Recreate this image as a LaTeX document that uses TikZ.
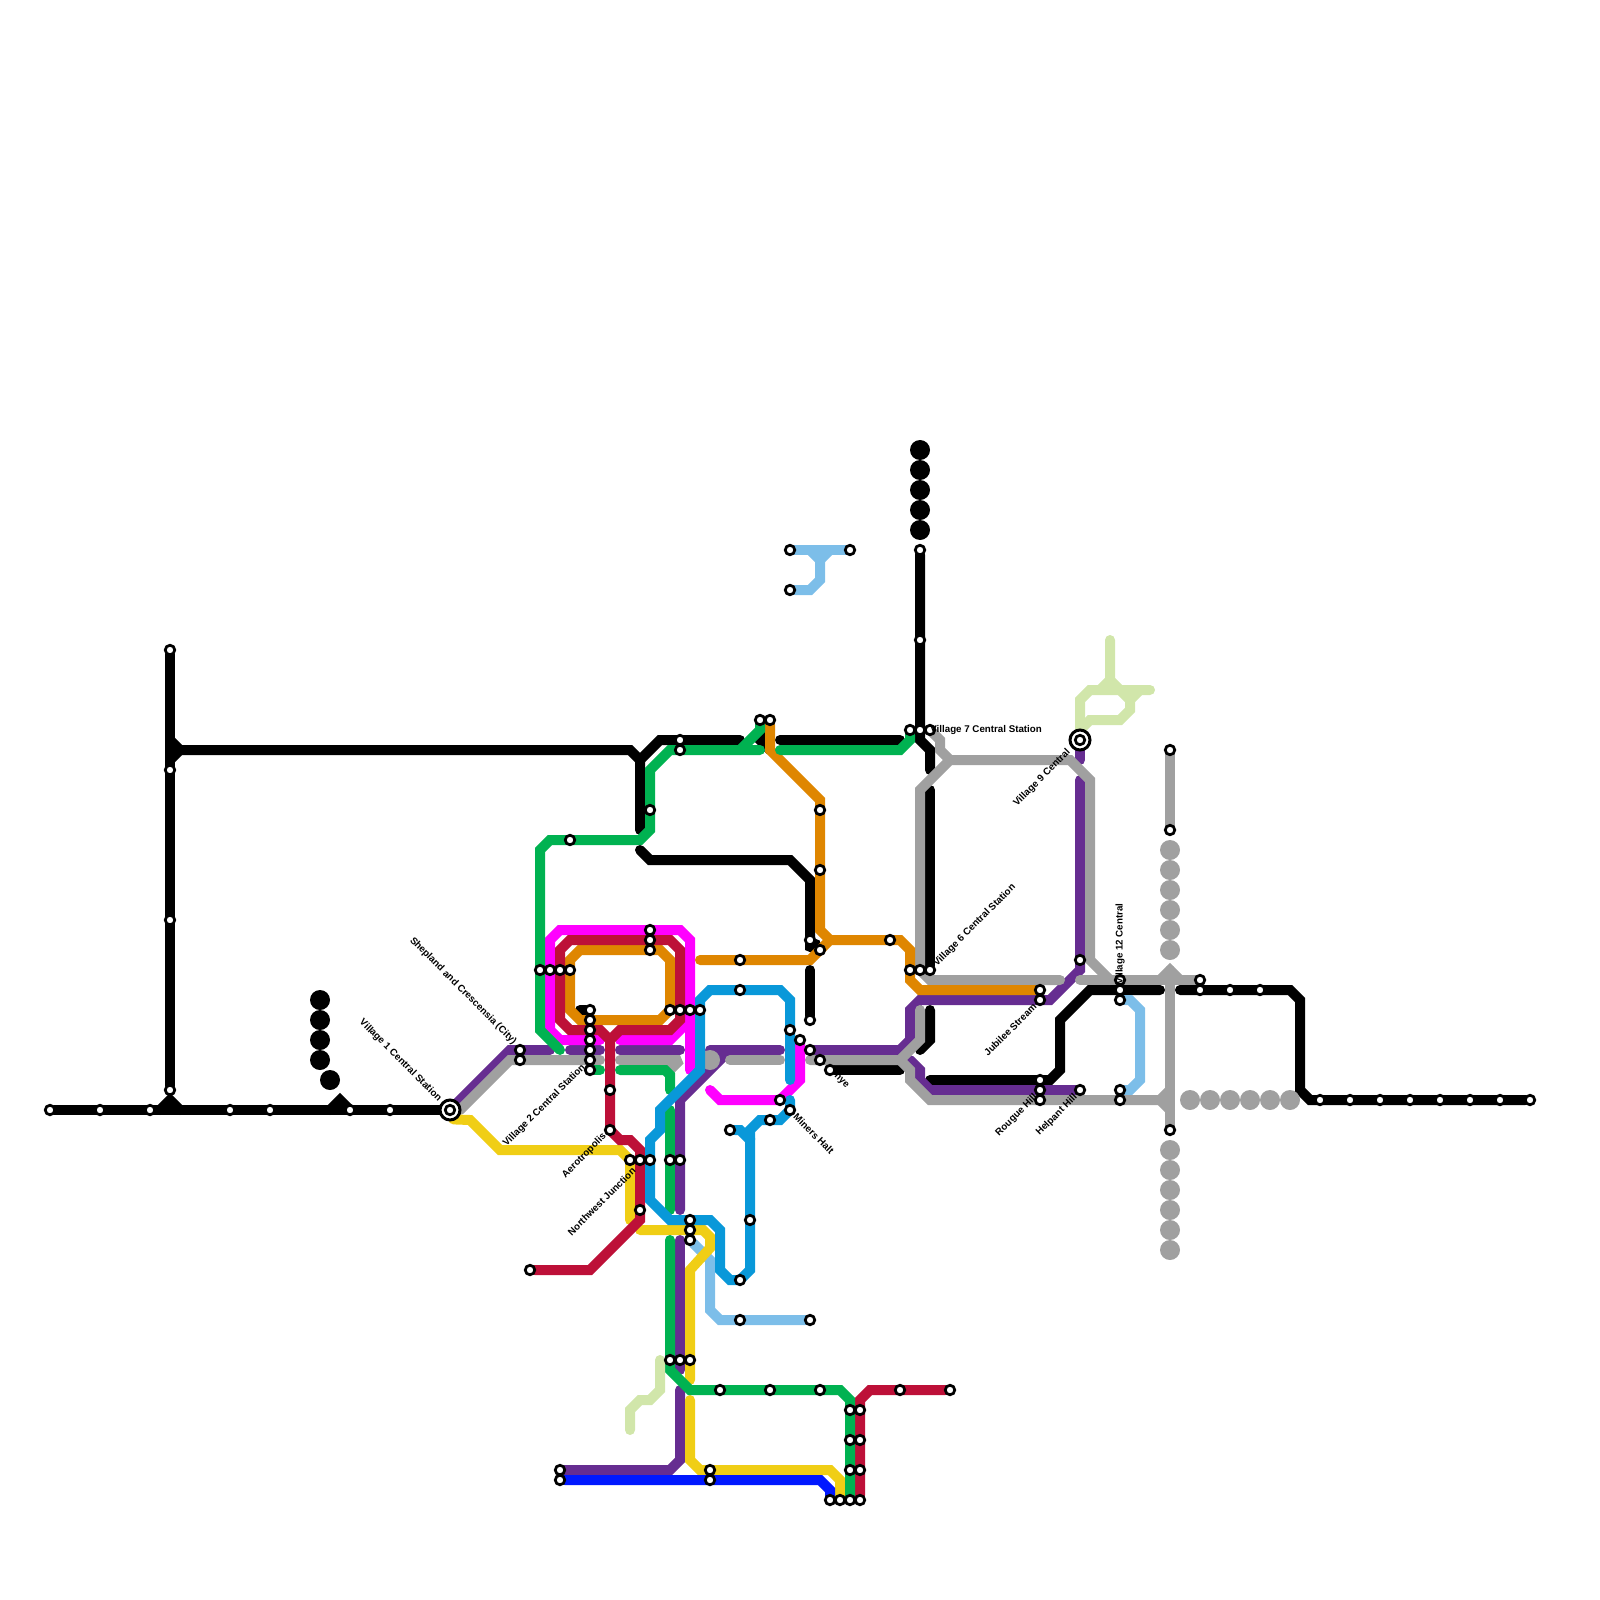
\documentclass[tikz,border=0pt]{standalone}
\usepackage{fontspec}
\setmainfont{Liberation Sans}
\usepackage{tikz}
\definecolor{lineGrey}{RGB}{160,160,160}
\definecolor{linePurple}{RGB}{102,45,145}
\definecolor{lineCrimson}{RGB}{189,16,56}
\definecolor{lineMagenta}{RGB}{255,0,255}
\definecolor{lineOrange}{RGB}{223,134,0}
\definecolor{lineGreen}{RGB}{0,178,81}
\definecolor{lineBlue}{RGB}{9,152,217}
\definecolor{lineSky}{RGB}{124,190,233}
\definecolor{lineYellow}{RGB}{240,206,21}
\definecolor{lineNavy}{RGB}{0,24,255}
\definecolor{linePale}{RGB}{209,230,170}
\pgfdeclarelayer{lines}
\pgfsetlayers{lines,main}
\tikzset{
  route/.style={line width=2mm, line cap=round, line join=miter, miter limit=2},
  stop/.style={circle, draw=black, fill=white, line width=0.55mm, minimum size=1.9mm, inner sep=0pt, outer sep=0pt},
  hub/.style={circle, draw=black, fill=white, line width=0.6mm, minimum size=4mm, inner sep=0pt, outer sep=0pt},
  blackdot/.style={circle, fill=black, minimum size=4mm, inner sep=0pt, outer sep=0pt},
  greydot/.style={circle, fill=lineGrey, minimum size=4mm, inner sep=0pt, outer sep=0pt},
  place/.style={font=\bfseries\fontsize{5.55}{6.5}\selectfont, text=black, inner sep=0pt}
}

\begin{document}
\begin{tikzpicture}[x=2mm,y=-2mm]
  \useasboundingbox (0,0) rectangle (160,160);

  \node[stop] (wa) at (5,111) {};
  \node[stop] (wb) at (10,111) {};
  \node[stop] (wc) at (15,111) {};
  \node[stop] (wd) at (23,111) {};
  \node[stop] (we) at (27,111) {};
  \node[stop] (wf) at (35,111) {};
  \node[stop] (wg) at (39,111) {};
  \node[stop] (na) at (17,65) {};
  \node[stop] (nb) at (17,77) {};
  \node[stop] (nc) at (17,92) {};
  \node[stop] (nd) at (17,109) {};
  \node[hub] (villageOne) at (45,111) {};
  \node[stop] (villageOneIn) at (45,111) {};
  \node[stop] (shepA) at (52,105) {};
  \node[stop] (shepB) at (52,106) {};
  \node[stop] (la) at (54,97) {};
  \node[stop] (lb) at (55,97) {};
  \node[stop] (lc) at (56,97) {};
  \node[stop] (ld) at (57,97) {};
  \node[stop] (ta) at (65,93) {};
  \node[stop] (tb) at (65,94) {};
  \node[stop] (tc) at (65,95) {};
  \node[stop] (ra) at (67,101) {};
  \node[stop] (rb) at (68,101) {};
  \node[stop] (rc) at (69,101) {};
  \node[stop] (rd) at (70,101) {};
  \node[stop] (sa) at (59,101) {};
  \node[stop] (sb) at (59,102) {};
  \node[stop] (sc) at (59,103) {};
  \node[stop] (sd) at (59,104) {};
  \node[stop] (se) at (59,105) {};
  \node[stop] (sf) at (59,106) {};
  \node[stop] (villageTwo) at (59,107) {};
  \node[stop] (aa) at (61,109) {};
  \node[stop] (aerotropolis) at (61,113) {};
  \node[stop] (nwa) at (63,116) {};
  \node[stop] (northwest) at (64,116) {};
  \node[stop] (nwc) at (65,116) {};
  \node[stop] (ca) at (67,116) {};
  \node[stop] (cb) at (68,116) {};
  \node[stop] (cc) at (64,121) {};
  \node[stop] (cd) at (53,127) {};
  \node[stop] (ga) at (57,84) {};
  \node[stop] (gb) at (65,81) {};
  \node[stop] (gc) at (68,74) {};
  \node[stop] (gd) at (68,75) {};
  \node[stop] (ge) at (76,72) {};
  \node[stop] (gf) at (77,72) {};
  \node[stop] (oa) at (74,96) {};
  \node[stop] (ob) at (74,99) {};
  \node[stop] (ba) at (79,103) {};
  \node[stop] (bb) at (80,104) {};
  \node[stop] (bc) at (81,105) {};
  \node[stop] (bd) at (82,106) {};
  \node[stop] (onye) at (83,107) {};
  \node[stop] (da) at (82,81) {};
  \node[stop] (db) at (82,87) {};
  \node[stop] (dc) at (81,94) {};
  \node[stop] (dd) at (82,95) {};
  \node[stop] (de) at (89,94) {};
  \node[stop] (ea) at (91,97) {};
  \node[stop] (eb) at (92,97) {};
  \node[stop] (villageSix) at (93,97) {};
  \node[stop] (fa) at (91,73) {};
  \node[stop] (fb) at (92,73) {};
  \node[stop] (villageSeven) at (93,73) {};
  \node[stop] (ha) at (92,55) {};
  \node[stop] (hb) at (92,64) {};
  \node[stop] (hc) at (81,102) {};
  \node[stop] (ma) at (78,110) {};
  \node[stop] (miners) at (79,111) {};
  \node[stop] (mb) at (77,112) {};
  \node[stop] (mc) at (73,113) {};
  \node[stop] (pa) at (69,122) {};
  \node[stop] (pb) at (69,123) {};
  \node[stop] (pc) at (69,124) {};
  \node[stop] (pd) at (75,122) {};
  \node[stop] (pe) at (74,128) {};
  \node[stop] (pf) at (74,132) {};
  \node[stop] (pg) at (81,132) {};
  \node[stop] (qa) at (67,136) {};
  \node[stop] (qb) at (68,136) {};
  \node[stop] (qc) at (69,136) {};
  \node[stop] (qd) at (72,139) {};
  \node[stop] (qe) at (77,139) {};
  \node[stop] (qf) at (82,139) {};
  \node[stop] (qg) at (90,139) {};
  \node[stop] (qh) at (95,139) {};
  \node[stop] (ua) at (85,141) {};
  \node[stop] (ub) at (86,141) {};
  \node[stop] (uc) at (85,144) {};
  \node[stop] (ud) at (86,144) {};
  \node[stop] (ue) at (85,147) {};
  \node[stop] (uf) at (86,147) {};
  \node[stop] (ug) at (83,150) {};
  \node[stop] (uh) at (84,150) {};
  \node[stop] (ui) at (85,150) {};
  \node[stop] (uj) at (86,150) {};
  \node[stop] (va) at (56,147) {};
  \node[stop] (vb) at (56,148) {};
  \node[stop] (vc) at (71,147) {};
  \node[stop] (vd) at (71,148) {};
  \node[stop] (ka) at (79,55) {};
  \node[stop] (kb) at (85,55) {};
  \node[stop] (kc) at (79,59) {};
  \node[stop] (xa) at (104,99) {};
  \node[stop] (jubilee) at (104,100) {};
  \node[stop] (xb) at (108,96) {};
  \node[stop] (xc) at (104,108) {};
  \node[stop] (rougue) at (104,109) {};
  \node[stop] (xd) at (104,110) {};
  \node[stop] (helpant) at (108,109) {};
  \node[hub] (villageNine) at (108,74) {};
  \node[stop] (villageNineIn) at (108,74) {};
  \node[stop] (villageTwelve) at (112,98) {};
  \node[stop] (ya) at (112,99) {};
  \node[stop] (yb) at (112,100) {};
  \node[stop] (yc) at (112,109) {};
  \node[stop] (yd) at (112,110) {};
  \node[stop] (za) at (120,98) {};
  \node[stop] (zb) at (120,99) {};
  \node[stop] (zc) at (123,99) {};
  \node[stop] (zd) at (126,99) {};
  \node[stop] (zf) at (117,75) {};
  \node[stop] (zg) at (117,83) {};
  \node[stop] (zh) at (117,113) {};
  \node[stop] (ea1) at (132,110) {};
  \node[stop] (ea2) at (135,110) {};
  \node[stop] (ea3) at (138,110) {};
  \node[stop] (ea4) at (141,110) {};
  \node[stop] (ea5) at (144,110) {};
  \node[stop] (ea6) at (147,110) {};
  \node[stop] (ea7) at (150,110) {};
  \node[stop] (ea8) at (153,110) {};

  \node[blackdot] (topa) at (92,45) {};
  \node[blackdot] (topb) at (92,47) {};
  \node[blackdot] (topc) at (92,49) {};
  \node[blackdot] (topd) at (92,51) {};
  \node[blackdot] (tope) at (92,53) {};
  \node[blackdot] (lefta) at (32,100) {};
  \node[blackdot] (leftb) at (32,102) {};
  \node[blackdot] (leftc) at (32,104) {};
  \node[blackdot] (leftd) at (32,106) {};
  \node[blackdot] (lefte) at (33,108) {};
  \node[greydot] (upa) at (117,85) {};
  \node[greydot] (upb) at (117,87) {};
  \node[greydot] (upc) at (117,89) {};
  \node[greydot] (upd) at (117,91) {};
  \node[greydot] (upe) at (117,93) {};
  \node[greydot] (upf) at (117,95) {};
  \node[greydot] (dna) at (117,115) {};
  \node[greydot] (dnb) at (117,117) {};
  \node[greydot] (dnc) at (117,119) {};
  \node[greydot] (dnd) at (117,121) {};
  \node[greydot] (dne) at (117,123) {};
  \node[greydot] (dnf) at (117,125) {};
  \node[greydot] (ria) at (119,110) {};
  \node[greydot] (rib) at (121,110) {};
  \node[greydot] (ric) at (123,110) {};
  \node[greydot] (rid) at (125,110) {};
  \node[greydot] (rie) at (127,110) {};
  \node[greydot] (rif) at (129,110) {};

  \begin{pgfonlayer}{lines}
    \draw[route, black] (wa) -- (villageOne);
    \draw[route, black] (na) -- (nd);
    \draw[route, black] (16,111) -- (17,110) -- (18,111);
    \draw[route, black] (33,111) -- (34,110) -- (35,111);
    \draw[route, black] (17,74) -- (18,75) -- (17,76);
    \draw[route, black] (18,75) -- (63,75) -- (64,76) -- (64,83);
    \draw[route, black] (64,76) -- (66,74) -- (74,74);
    \draw[route, black] (77,73) -- (76,74) -- (77,75);
    \draw[route, black] (78,74) -- (90,74);
    \draw[route, black] (64,85) -- (65,86) -- (79,86) -- (81,88) -- (81,95) -- (81.6,94.4);
    \draw[route, black] (ha) -- (92,74) -- (93,75) -- (93,77);
    \draw[route, black] (93,79) -- (villageSix);
    \draw[route, black] (93,101) -- (93,104) -- (92,105);
    \draw[route, black] (81,97) -- (hc);
    \draw[route, black] (onye) -- (90,107);
    \draw[route, black] (93,108) -- (105,108) -- (106,107) -- (106,102) -- (109,99) -- (116,99);
    \draw[route, black] (118,99) -- (129,99) -- (130,100) -- (130,109) -- (131,110) -- (ea8);
    \draw[route, black] (58,101) -- (sa);

    \draw[route, lineSky] (ka) -- (kb);
    \draw[route, lineSky] (81,55) -- (82,56) -- (83,55);
    \draw[route, lineSky] (82,56) -- (82,58) -- (81,59) -- (kc);
    \draw[route, lineSky] (pc) -- (71,126) -- (71,131) -- (72,132) -- (pg);
    \draw[route, lineSky] (yb) -- (113,100) -- (114,101) -- (114,108) -- (113,109) -- (yc);

    \draw[route, linePurple] (villageOne) -- (51,105) -- (55,105);
    \draw[route, linePurple] (57,105) -- (60,105);
    \draw[route, linePurple] (62,105) -- (68,105);
    \draw[route, linePurple] (71,105) -- (78,105);
    \draw[route, linePurple] (73,105) -- (68,110) -- (68,121);
    \draw[route, linePurple] (68,124) -- (68,137);
    \draw[route, linePurple] (68,139) -- (68,146) -- (67,147) -- (va);
    \draw[route, linePurple] (bc) -- (90,105) -- (91,104) -- (91,101) -- (92,100) -- (105,100) -- (108,97) -- (108,78);
    \draw[route, linePurple] (villageNine) -- (108,76);
    \draw[route, linePurple] (91,106) -- (92,107) -- (92,108) -- (93,109) -- (helpant);

    \node[greydot] (midgrey) at (71,106) {};
    \draw[route, lineGrey] (46,111) -- (51,106) -- (60,106);
    \draw[route, lineGrey] (62,106) -- (68,106) -- (67,107);
    \draw[route, lineGrey] (73,106) -- (78,106);
    \draw[route, lineGrey] (81,106) -- (90,106) -- (92,104) -- (92,101);
    \draw[route, lineGrey] (90,106) -- (91,107) -- (91,108) -- (93,110) -- (116,110);
    \draw[route, lineGrey] (117,109) -- (116,110) -- (117,111);
    \draw[route, lineGrey] (116,98) -- (117,97) -- (118,98);
    \draw[route, lineGrey] (117,97) -- (zh);
    \draw[route, lineGrey] (108,98) -- (za);
    \draw[route, lineGrey] (zf) -- (zg);
    \draw[route, lineGrey] (93,73) -- (94,74) -- (94,75) -- (95,76);
    \draw[route, lineGrey] (106,98) -- (93,98) -- (92,97) -- (92,79) -- (95,76) -- (107,76) -- (109,78) -- (109,96) -- (111,98);

    \draw[route, lineMagenta] (60,104) -- (56,104) -- (55,103) -- (55,94) -- (56,93) -- (68,93) -- (69,94) -- (69,107);
    \draw[route, lineMagenta] (62,104) -- (67,104) -- (69,102);
    \draw[route, lineMagenta] (71,109) -- (72,110) -- (78,110) -- (80,108) -- (80,104);

    \draw[route, lineOrange] (58,95) -- (66,95) -- (67,96) -- (67,101) -- (66,102) -- (58,102) -- (57,101) -- (57,96) -- cycle;
    \draw[route, lineOrange] (70,96) -- (81,96) -- (83,94) -- (90,94) -- (91,95) -- (91,98) -- (92,99) -- (xa);
    \draw[route, lineOrange] (gf) -- (77,75) -- (82,80) -- (82,93) -- (83,94);

    \draw[route, lineYellow] (villageOne.-70) -- (47,112) -- (50,115) -- (62,115) -- (63,116) -- (63,122);
    \draw[route, lineYellow] (64,123) -- (70.3,123) -- (71,123.7) -- (71,124.8) -- (69,127) -- (69,138);
    \draw[route, lineYellow] (69,140) -- (69,146) -- (70,147) -- (83,147) -- (84,148) -- (uh);

    \draw[route, lineCrimson] (61,104) -- (60,103) -- (57,103) -- (56,102) -- (56,95) -- (57,94) -- (67,94) -- (68,95) -- (68,102) -- (67,103) -- (62,103) -- (61,104) -- (aerotropolis.center) -- (62,114) -- (63,114) -- (64,115) -- (64,122) -- (59,127) -- (cd);
    \draw[route, lineCrimson] (uj) -- (86,140) -- (87,139) -- (qh);

    \draw[route, lineNavy] (vb) -- (82,148) -- (83,149) -- (ug);

    \draw[route, lineGreen] (56,105) -- (54,103) -- (54,85) -- (55,84) -- (64,84) -- (65,83) -- (65,77) -- (67,75) -- (76,75);
    \draw[route, lineGreen] (74,75) -- (76,73) -- (ge);
    \draw[route, lineGreen] (78,75) -- (90,75) -- (91,74) -- (fa);
    \draw[route, lineGreen] (villageTwo) -- (60,107);
    \draw[route, lineGreen] (62,107) -- (66.5,107) -- (67,107.5) -- (67,109);
    \draw[route, lineGreen] (67,111) -- (67,121);
    \draw[route, lineGreen] (67,124) -- (67,137) -- (69,139) -- (84,139) -- (85,140) -- (ui);

    \draw[route, lineBlue] (mc) -- (74,113) -- (75,114) -- (75,127) -- (74,128) -- (73,128) -- (72,127) -- (72,123) -- (71,122) -- (67,122) -- (65,120) -- (65,114) -- (66,113) -- (66,111) -- (70,107) -- (70,100) -- (71,99) -- (78,99) -- (79,100) -- (79,108);
    \draw[route, lineBlue] (75,114) -- (75,113) -- (76,112) -- (78,112) -- (79,111) -- (79,110);

    \draw[route, linePale] (villageNine) -- (108,70) -- (109,69) -- (115,69);
    \draw[route, linePale] (112,69) -- (113,70) -- (113,71) -- (112,72) -- (109,72) -- (108,73);
    \draw[route, linePale] (111,64) -- (111,68) -- (110,69);
    \draw[route, linePale] (111,68) -- (112,69);
    \draw[route, linePale] (113,70) -- (114,69);
    \draw[route, linePale] (66,136) -- (66,139) -- (65,140) -- (64,140) -- (63,141) -- (63,143);
  \end{pgfonlayer}

  \node[place, rotate=-45, anchor=east] (lblVillageOne) at (44,110) {Village 1 Central Station};
  \node[place, rotate=-45, anchor=east] (lblShepland) at (51.5,104.3) {Shepland and Crescensia (City)};
  \node[place, rotate=45, anchor=east] (lblVillageTwo) at (58.4,106.6) {Village 2 Central Station};
  \node[place, rotate=45, anchor=east] (lblAerotropolis) at (60.5,113.5) {Aerotropolis};
  \node[place, rotate=45, anchor=east] (lblNorthwest) at (63.4,116.9) {Northwest Junction};
  \node[place, rotate=-45, anchor=west] (lblMiners) at (79.5,111.5) {Miners Halt};
  \node[place, rotate=-45, anchor=west] (lblOnye) at (83.5,107.5) {nye};
  \node[place, anchor=west] (lblVillageSeven) at (93,73) {Village 7 Central Station};
  \node[place, rotate=45, anchor=west] (lblVillageSix) at (93.5,96.5) {Village 6 Central Station};
  \node[place, rotate=45, anchor=east] (lblJubilee) at (103.5,100.5) {Jubilee Stream};
  \node[place, rotate=45, anchor=east] (lblRougue) at (103.6,109.6) {Rougue Hill};
  \node[place, rotate=45, anchor=east] (lblHelpant) at (107.6,109.6) {Helpant Hill};
  \node[place, rotate=45, anchor=east] (lblVillageNine) at (106.9,75.1) {Village 9 Central};
  \node[place, rotate=90, anchor=west] (lblVillageTwelve) at (112,98.5) {Village 12 Central};
\end{tikzpicture}
\end{document}
